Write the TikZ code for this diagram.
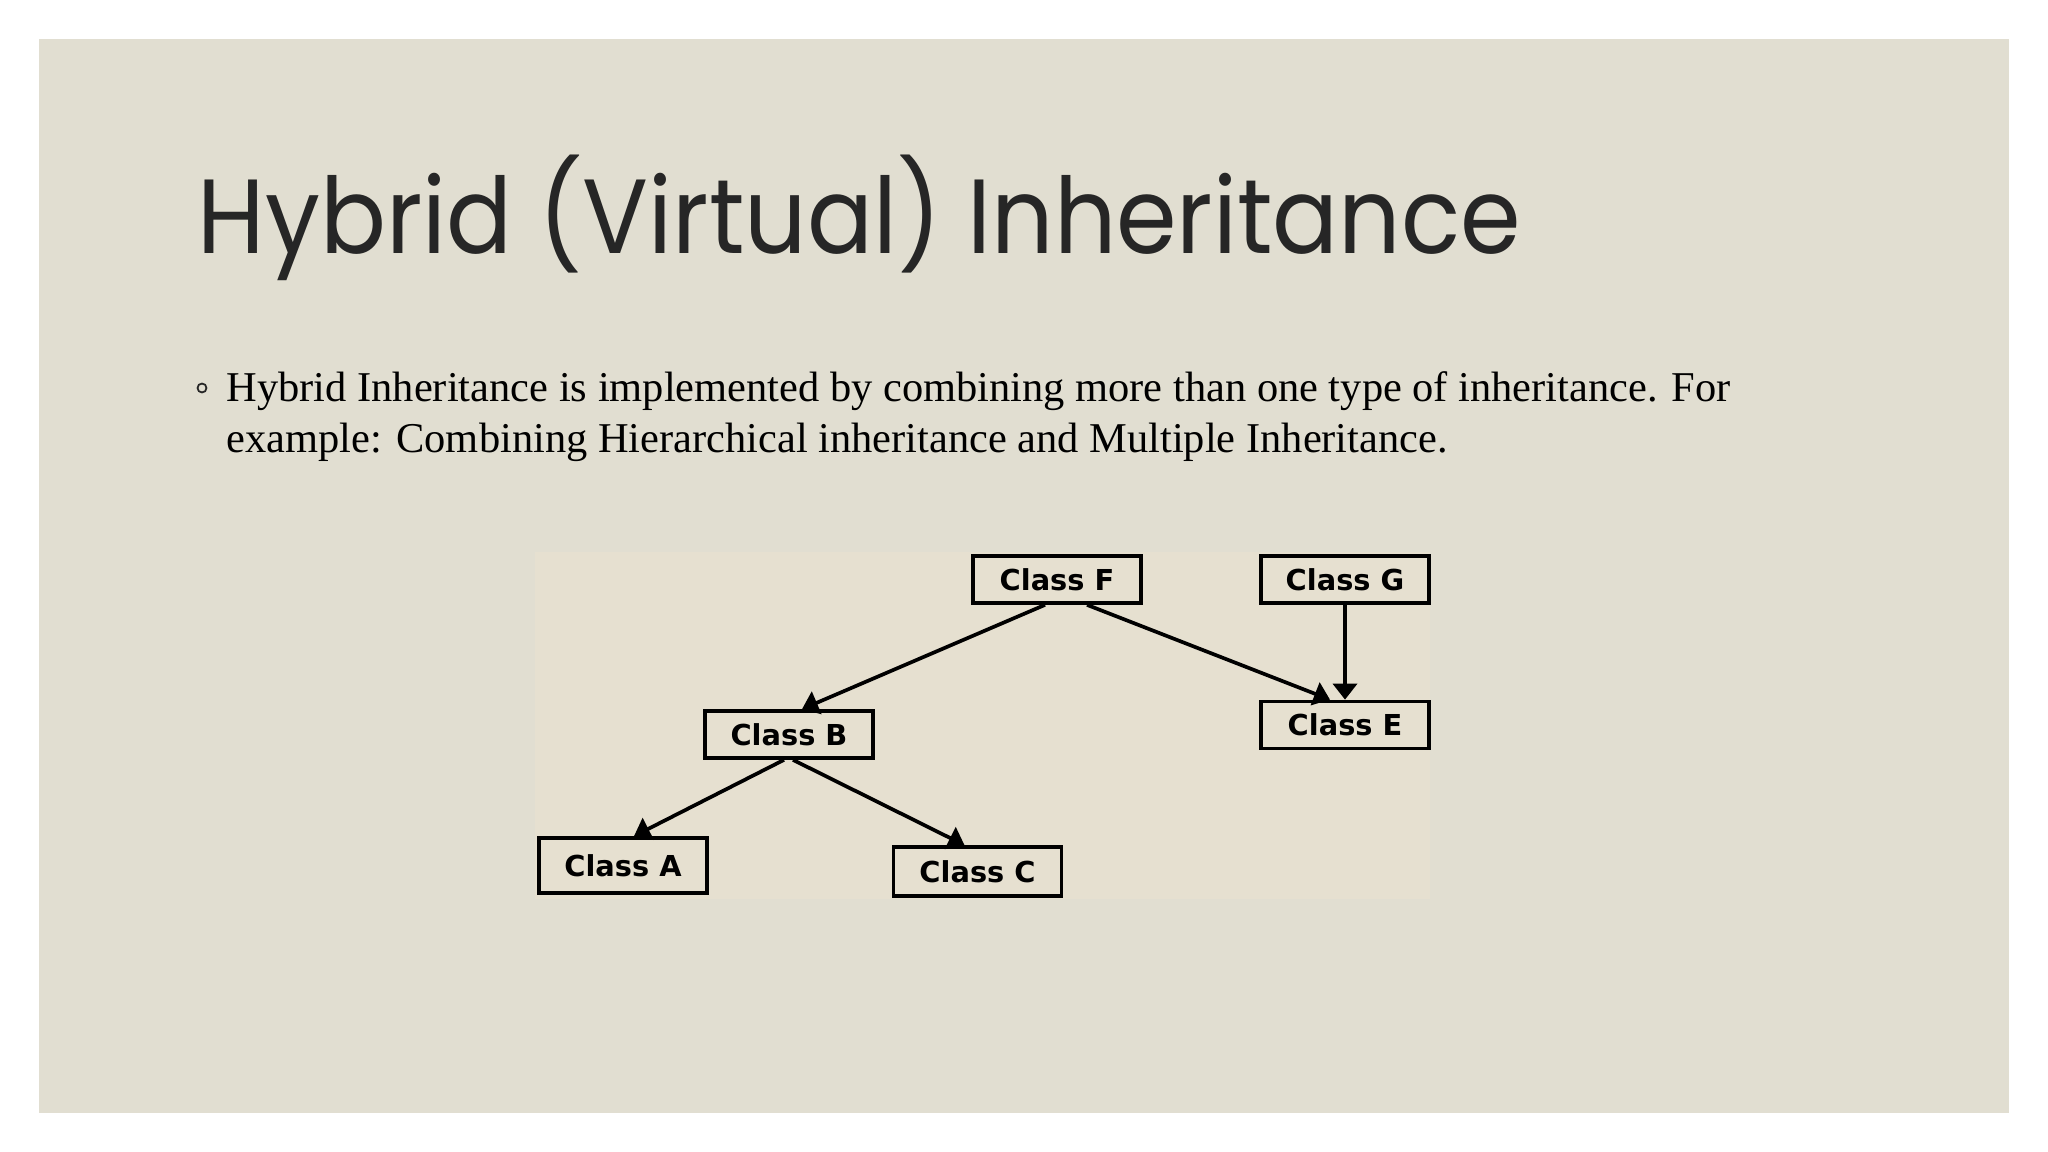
\documentclass[tikz,border=0pt]{standalone}
\usepackage{fontspec}
\setmainfont{Liberation Serif}
\newfontfamily\titlefont{Poppins}
\newfontfamily\boxfont{DejaVu Sans}
\usepackage{tikz}
\usetikzlibrary{arrows.meta,calc,positioning}
\definecolor{slideBg}{HTML}{E1DED1}
\definecolor{imgBg}{HTML}{E6E0D0}
\definecolor{titleGray}{HTML}{262626}
\newcommand{\boxwidth}{1.68cm}
\newcommand{\boxheight}{0.47cm}
\tikzset{
  classbox/.style={draw,line width=1.05pt,shape=rectangle,minimum width=\boxwidth,minimum height=\boxheight,inner sep=0,font=\boxfont\bfseries\fontsize{8.2}{9}\selectfont},
  line/.style={draw,line width=1.05pt,-{Triangle[length=0.16cm,width=0.24cm]}},
}
\begin{document}
\begin{tikzpicture}[x=0.01cm,y=-0.01cm]
  \useasboundingbox (0,0) rectangle (2048,1152);
  \fill[white] (0,0) rectangle (2048,1152);
  \fill[slideBg] (39,39) rectangle (2009,1113);
  % title and bullet
  \node (title) [anchor=base west,inner sep=0,text=titleGray,font=\titlefont\fontsize{30}{36}\selectfont] at (197,254) {\scalebox{0.925}[1]{Hybrid (Virtual) Inheritance}};
  \draw[line width=0.5pt,titleGray] (202,388) circle (4.5);
  \node (line1) [anchor=base west,inner sep=0,font=\fontsize{12.07}{14}\selectfont] at (226,402) {Hybrid Inheritance is implemented by combining more than one type of inheritance. For};
  \node (line2) [anchor=base west,inner sep=0,font=\fontsize{12.07}{14}\selectfont] at (226,453) {example: Combining Hierarchical inheritance and Multiple Inheritance.};
  % picture
  \fill[imgBg] (535,552) rectangle (1430,899);
  \node (f) [classbox] at (1057,579.5) {Class F};
  \node (g) [classbox] at (1345,579.5) {Class G};
  \node (b) [classbox] at (789,734.5) {Class B};
  \node (e) [classbox] at (1345,725) {Class E};
  \node (a) [classbox,minimum height=0.55cm] at (623,865.5) {Class A};
  \node (c) [classbox,minimum height=0.49cm] at (977.5,871.5) {Class C};
  \path [line] ($(f.south)+(-12,0)$) -- ($(b.north)+(13,0)$);
  \path [line] ($(f.south)+(30,0)$) -- ($(e.north)+(-15,0)$);
  \path [line] (g.south) -- (e.north);
  \path [line] ($(b.south)+(-5,0)$) -- ($(a.north)+(11,0)$);
  \path [line] ($(b.south)+(4,0)$) -- ($(c.north)+(-13,0)$);
\end{tikzpicture}
\end{document}
